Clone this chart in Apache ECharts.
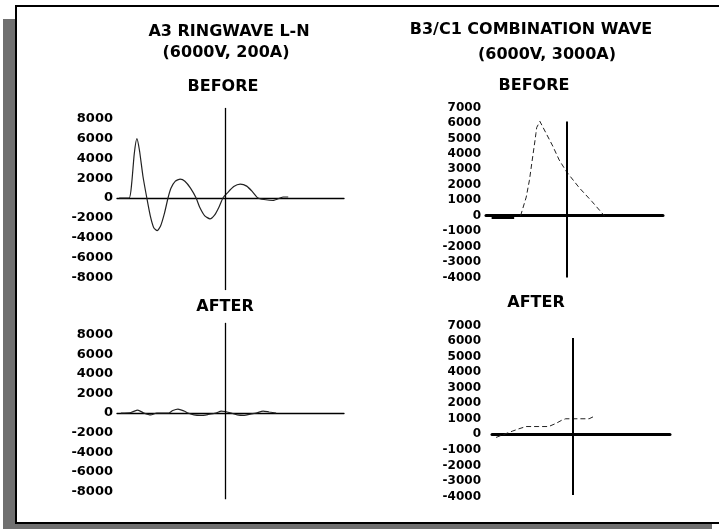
<!DOCTYPE html>
<html>
<head>
<meta charset="utf-8">
<script src="https://cdn.jsdelivr.net/npm/echarts@6/dist/echarts.min.js"></script>
<style>
  html, body { margin: 0; padding: 0; background: #fff; }
  #main { width: 719px; height: 529px; }
</style>
</head>
<body>
<div id="main"></div>
<script>
// ringwave (us, V) - before and after
var ringBefore = [
    [-24.5, 0], [-22.2, 0], [-21.6, 1500], [-21.0, 4500], [-20.4, 6000], [-19.8, 4800],
    [-19.0, 2200], [-18.1, 0], [-17.3, -1800], [-16.5, -3000], [-15.7, -3300], [-14.9, -2800],
    [-14.0, -1500], [-13.2, 0], [-12.5, 1000], [-11.5, 1700], [-10.4, 1900], [-9.3, 1700],
    [-8.0, 1000], [-6.7, 0], [-5.9, -900], [-4.7, -1800], [-3.5, -2100], [-2.4, -1700],
    [-1.4, -900], [-0.5, 0], [0.5, 500], [2, 1150], [3.5, 1400], [5, 1200], [6.4, 600],
    [7.6, 0], [9, -150], [11.1, -250], [12.7, 0], [13.4, 100], [14.6, 100]
];
var ringAfter = [
    [-24.1, 0], [-21.8, 50], [-20.2, 300], [-18.8, 0], [-17.2, -200], [-15.8, 0],
    [-13, 0], [-12.1, 250], [-10.9, 400], [-9.5, 200], [-8.6, 0], [-7.2, -200],
    [-5.6, -250], [-3.9, -150], [-2.1, 0], [-0.9, 200], [0, 150], [1.4, 0],
    [2.8, -200], [4.4, -250], [6, -100], [7.2, 0], [8.8, 200], [10.2, 100], [11.8, 0]
];
// combination wave
var comboBase = [[-9.3, -120], [-6.5, -120]];
var comboBefore = [
    [-5.7, 0], [-5, 1200], [-4.6, 2300], [-4.2, 3800], [-3.9, 4900], [-3.8, 5300],
    [-3.7, 5700], [-3.3, 6100], [-2.5, 5300], [-1.7, 4500], [-0.9, 3600], [0, 2850],
    [1.6, 1800], [3.2, 900], [4.7, 0]
];
var comboAfter = [
    [-9.5, -200], [-8.5, 0], [-7.5, 200], [-6.7, 350], [-5.8, 500], [-4.2, 500],
    [-3, 500], [-2.1, 700], [-1.4, 900], [-0.9, 1000], [0, 1000], [2, 1000], [2.8, 1200]
];
// vertical (y) axis line extents for each panel
var vLines = [[9100, -9300], [6100, -4000], [9200, -8800], [6200, -3900]];

var titles = [
    {text: 'A3 RINGWAVE L-N', x: 229, y: 24},
    {text: '(6000V, 200A)', x: 226, y: 45},
    {text: 'BEFORE', x: 223, y: 79},
    {text: 'AFTER', x: 225, y: 299},
    {text: 'B3/C1 COMBINATION WAVE', x: 531, y: 22},
    {text: '(6000V, 3000A)', x: 547, y: 47},
    {text: 'BEFORE', x: 534, y: 78},
    {text: 'AFTER', x: 536, y: 295}
];

var myChart = echarts.init(document.getElementById('main'));

function yAx(idx, min, max, step, size, margin) {
    return {
        gridIndex: idx, type: 'value', min: min, max: max, interval: step,
        axisLine: {show: false}, axisTick: {show: false}, splitLine: {show: false},
        axisLabel: {
            margin: margin, color: '#000', fontFamily: 'DejaVu Sans', fontWeight: 'bold', fontSize: size,
            formatter: function (v) { return (v === min || v === max) ? '' : String(v); }
        }
    };
}
function xAx(idx, min, max, w) {
    return {
        gridIndex: idx, type: 'value', min: min, max: max,
        axisLine: {show: true, onZero: true, lineStyle: {color: '#000', width: w}},
        axisTick: {show: false}, axisLabel: {show: false}, splitLine: {show: false}
    };
}
function wave(idx, data, dashed, vl, vw) {
    return {
        type: 'line', xAxisIndex: idx, yAxisIndex: idx, data: data,
        showSymbol: false, smooth: dashed ? false : 0.2,
        lineStyle: {color: '#222', width: dashed ? 1 : 1.2, type: dashed ? [5, 3] : 'solid'},
        markLine: {
            silent: true, symbol: ['none', 'none'], label: {show: false},
            lineStyle: {color: '#000', width: vw, type: 'solid'},
            data: [[{coord: [0, vl[0]]}, {coord: [0, vl[1]]}]]
        }
    };
}

var option = {
    animation: false,
    backgroundColor: '#fff',
    title: titles.map(function (t) {
        return {
            text: t.text, left: t.x, top: t.y, textAlign: 'center', padding: 0,
            textStyle: {fontFamily: 'DejaVu Sans', fontWeight: 'bold', fontSize: 16, color: '#000'}
        };
    }),
    graphic: [
        {type: 'rect', shape: {x: 3, y: 19, width: 13, height: 510}, style: {fill: '#707070'}},
        {type: 'rect', shape: {x: 3, y: 524, width: 709, height: 5}, style: {fill: '#707070'}},
        {type: 'rect', shape: {x: 16, y: 6, width: 710, height: 517},
            style: {fill: 'none', stroke: '#000', lineWidth: 2}}
    ],
    grid: [
        {left: 117, top: 99, width: 227, height: 198},
        {left: 486, top: 92, width: 177, height: 201},
        {left: 117, top: 315, width: 227, height: 196},
        {left: 492, top: 310, width: 178, height: 202}
    ],
    xAxis: [xAx(0, -25, 27.5, 1.3), xAx(1, -10, 12, 3), xAx(2, -25, 27.5, 1.3), xAx(3, -10, 12, 3)],
    yAxis: [
        yAx(0, -10000, 10000, 2000, 13, 4),
        yAx(1, -5000, 8000, 1000, 12, 5),
        yAx(2, -10000, 10000, 2000, 13, 4),
        yAx(3, -5000, 8000, 1000, 12, 11)
    ],
    series: [
        wave(0, ringBefore, false, vLines[0], 1.3),
        wave(1, comboBefore, true, vLines[1], 2),
        {type: 'line', xAxisIndex: 1, yAxisIndex: 1, data: comboBase, showSymbol: false,
            lineStyle: {color: '#000', width: 3}},
        wave(2, ringAfter, false, vLines[2], 1.3),
        wave(3, comboAfter, true, vLines[3], 2)
    ]
};
myChart.setOption(option);
</script>
</body>
</html>
